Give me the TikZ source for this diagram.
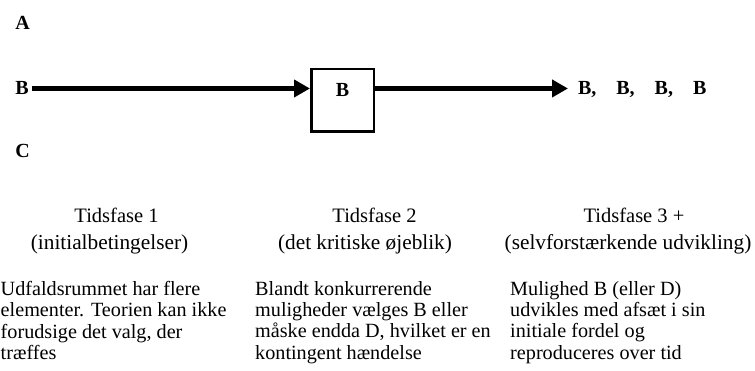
\documentclass[tikz,border=0pt]{standalone}
\usepackage{fontspec}
\setmainfont{Liberation Serif}
\usetikzlibrary{arrows.meta,positioning}
\tikzset{
  letter/.style={font=\fontsize{20}{24}\selectfont\bfseries, inner sep=0pt, outer xsep=3pt, anchor=base west},
  phase/.style={font=\fontsize{20.5}{24}\selectfont, inner sep=0pt, anchor=base},
  subphase/.style={font=\fontsize{21.3}{24}\selectfont, inner sep=0pt, anchor=base},
  body/.style={font=\fontsize{20.2}{21.3}\selectfont, inner sep=0pt, align=left, anchor=north west},
  flow/.style={line width=5.5pt, -{Triangle[length=16pt,width=17pt]}},
}
\begin{document}
\begin{tikzpicture}[x=1pt,y=-1pt]
\useasboundingbox (0,0) rectangle (755,371);

% udfaldsrum
\node[letter] (la) at (12.5,30) {A};
\node[letter] (lb) at (12.5,95) {B};
\node[letter] (lc) at (12.5,158) {C};

% det kritiske punkt
\node[draw, line width=2.5pt, minimum size=62.5pt, inner sep=0pt] (box) at (342.5,100.5) {};
\node[letter, anchor=base, outer xsep=0pt] (bx) at (342.5,97) {B};

\node[letter, outer xsep=10pt] (bb) at (568,95) {B,\hspace{20pt}B,\hspace{20pt}B,\hspace{20pt}B};

\draw[flow] (lb.east) -- (lb.east -| box.west);
\draw[flow] (lb.east -| box.east) -- (lb.east -| bb.west);

% tidsfaser
\node[phase] (t1) at (116.5,223) {Tidsfase 1};
\node[subphase] (s1) at (109.5,250) {(initialbetingelser)};
\node[phase] (t2) at (374.5,223) {Tidsfase 2};
\node[subphase] (s2) at (365,250) {(det kritiske øjeblik)};
\node[phase] (t3) at (634,223) {Tidsfase 3 +};
\node[subphase] (s3) at (628,250) {(selvforstærkende udvikling)};

\node[body] (d1) at (0.5,281) {Udfaldsrummet har flere\\elementer. Teorien kan ikke\\forudsige det valg, der\\træffes};
\node[body] (d2) at (255,281) {Blandt konkurrerende\\muligheder vælges B eller\\måske endda D, hvilket er en\\kontingent hændelse};
\node[body] (d3) at (510,281) {Mulighed B (eller D)\\udvikles med afsæt i sin\\initiale fordel og\\reproduceres over tid};
\end{tikzpicture}
\end{document}
